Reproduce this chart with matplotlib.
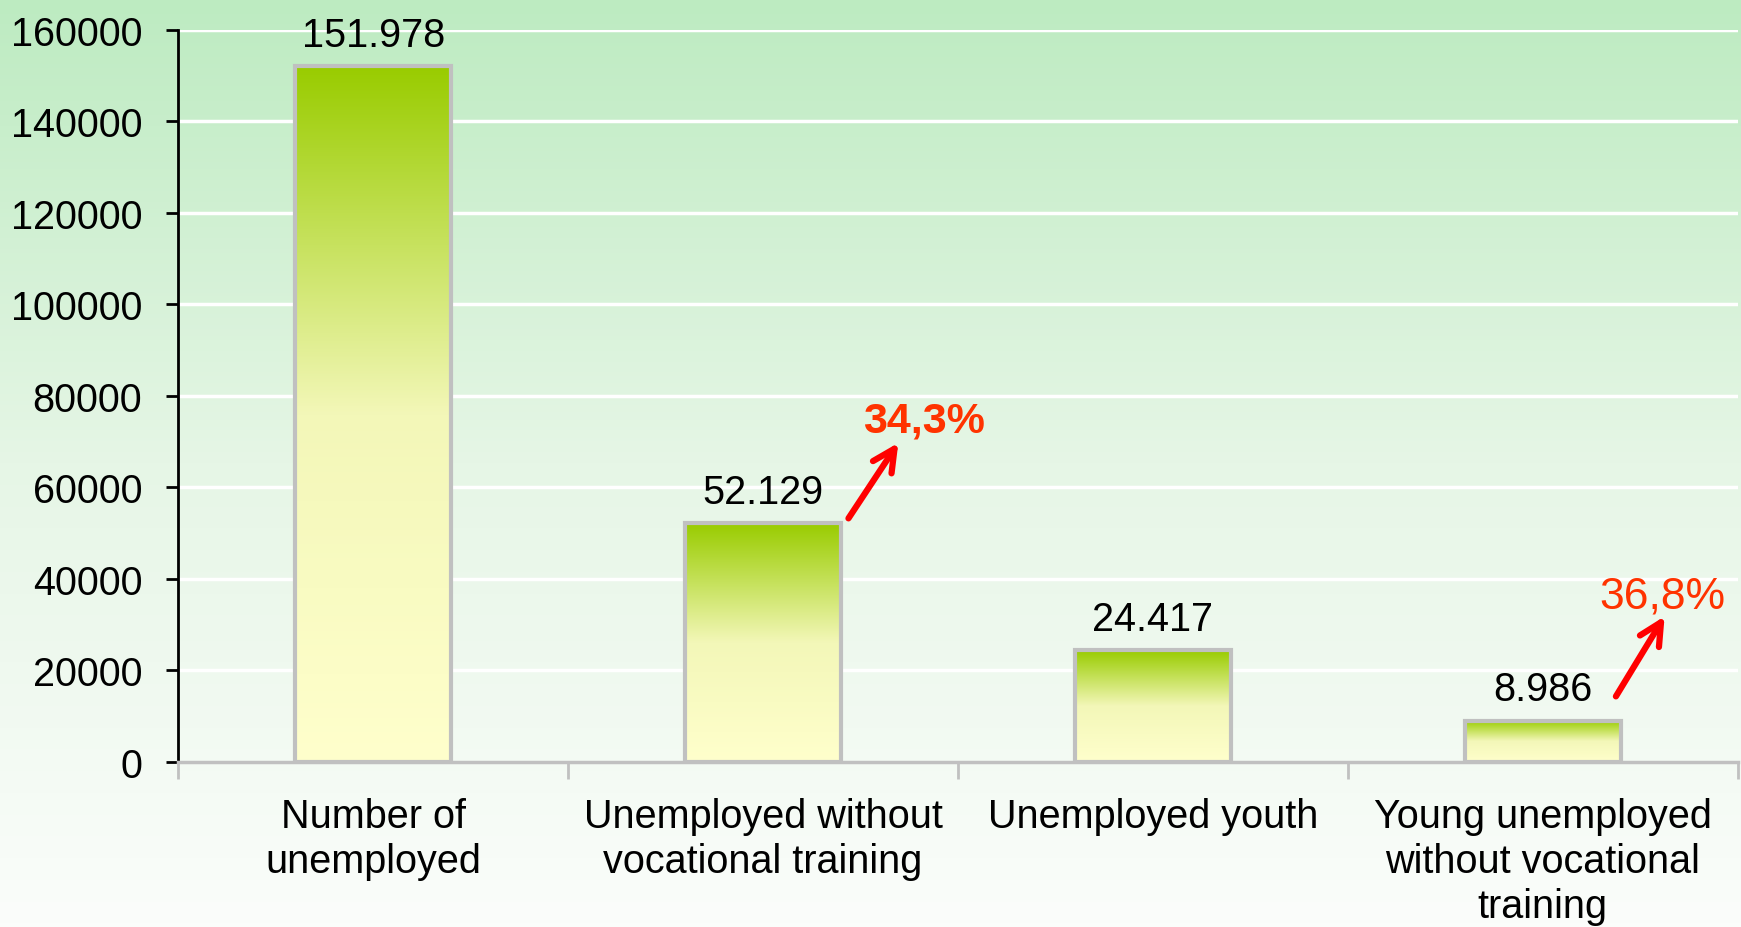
import matplotlib
matplotlib.use("Agg")
import matplotlib.pyplot as plt
import numpy as np
from matplotlib.colors import LinearSegmentedColormap

categories = ["Number of\nunemployed", "Unemployed without\nvocational training",
              "Unemployed youth", "Young unemployed\nwithout vocational\ntraining"]
values = [151978, 52129, 24417, 8986]
value_labels = ["151.978", "52.129", "24.417", "8.986"]
pct_labels = ["34,3%", "36,8%"]
pct_bars = [1, 3]
yticks = [0, 20000, 40000, 60000, 80000, 100000, 120000, 140000, 160000]

plt.rcParams['font.family'] = ['Liberation Sans', 'DejaVu Sans']

fig = plt.figure(figsize=(17.41, 9.28), dpi=100)

# background gradient
bg = fig.add_axes([0, 0, 1, 1], zorder=0)
bg_cmap = LinearSegmentedColormap.from_list("bg", ["#fbfdfb", "#e6f6e6", "#bdebc1"])
grad = np.linspace(0, 1, 256).reshape(-1, 1)
bg.imshow(grad, aspect='auto', cmap=bg_cmap, origin='lower', extent=[0, 1, 0, 1])
bg.axis('off')

ax = fig.add_axes([0.1025, 0.178, 0.8955, 0.789], zorder=1)
ax.patch.set_alpha(0)
x = np.arange(len(values))
width = 0.4

bar_cmap = LinearSegmentedColormap.from_list("bar", ["#ffffcc", "#f3f7b8", "#99cc00"])
bars = ax.bar(x, values, width=width, facecolor='none', edgecolor='#c0c0c0', linewidth=3, zorder=3)
for b in bars:
    x0, y0 = b.get_x(), b.get_y()
    w, h = b.get_width(), b.get_height()
    im = ax.imshow(grad, aspect='auto', cmap=bar_cmap, origin='lower',
                   extent=[x0, x0 + w, y0, y0 + h], zorder=2)
    im.set_clip_path(b)
ax.set_xlim(-0.5, 3.5)
ax.set_ylim(0, 160000)

ax.set_yticks(yticks)
ax.set_yticklabels([str(v) for v in yticks], fontsize=28.5)
ax.yaxis.grid(True, color='white', linewidth=2.5, zorder=1)
ax.set_axisbelow(True)

ax.set_xticks(x)
ax.set_xticklabels(categories, fontsize=28.5, linespacing=1.24)
ax.tick_params(axis='x', length=0, pad=25)
ax.set_xticks([-0.5, 0.5, 1.5, 2.5, 3.5], minor=True)
ax.tick_params(axis='x', which='minor', length=12, width=2, color='#c0c0c0', direction='out')
ax.tick_params(axis='y', length=9, width=2, color='black', direction='out', pad=17)

for s in ['top', 'right']:
    ax.spines[s].set_visible(False)
ax.spines['left'].set_color('black')
ax.spines['left'].set_linewidth(2)
ax.spines['bottom'].set_color('#c0c0c0')
ax.spines['bottom'].set_linewidth(2.5)

for xi, v, lab in zip(x, values, value_labels):
    ax.annotate(lab, (xi, v), xytext=(0, 9), textcoords='offset points',
                ha='center', va='bottom', fontsize=28.5, color='black', zorder=5)

# arrows and percentage annotations
arrow_starts = [(1.219, 53200), (3.188, 14300)]
arrow_ends = [(1.347, 69700), (3.313, 31800)]
text_pos = [(1.412, 74500), (3.307, 36200)]
weights = ['bold', 'normal']
sizes = [31, 32]
for (sx, sy), (ex, ey), (tx, ty), lab, wt, fs in zip(arrow_starts, arrow_ends, text_pos, pct_labels, weights, sizes):
    ax.annotate('', xy=(ex, ey), xytext=(sx, sy),
                arrowprops=dict(arrowstyle='->,head_length=1.6,head_width=0.8',
                                color='#ff0000', lw=4.5, shrinkA=0, shrinkB=0),
                zorder=6, annotation_clip=False)
    ax.text(tx, ty, lab, ha='center', va='center', fontsize=fs, color='#ff3300',
            fontweight=wt, zorder=6, clip_on=False)

fig.savefig("out.png", dpi=100)
